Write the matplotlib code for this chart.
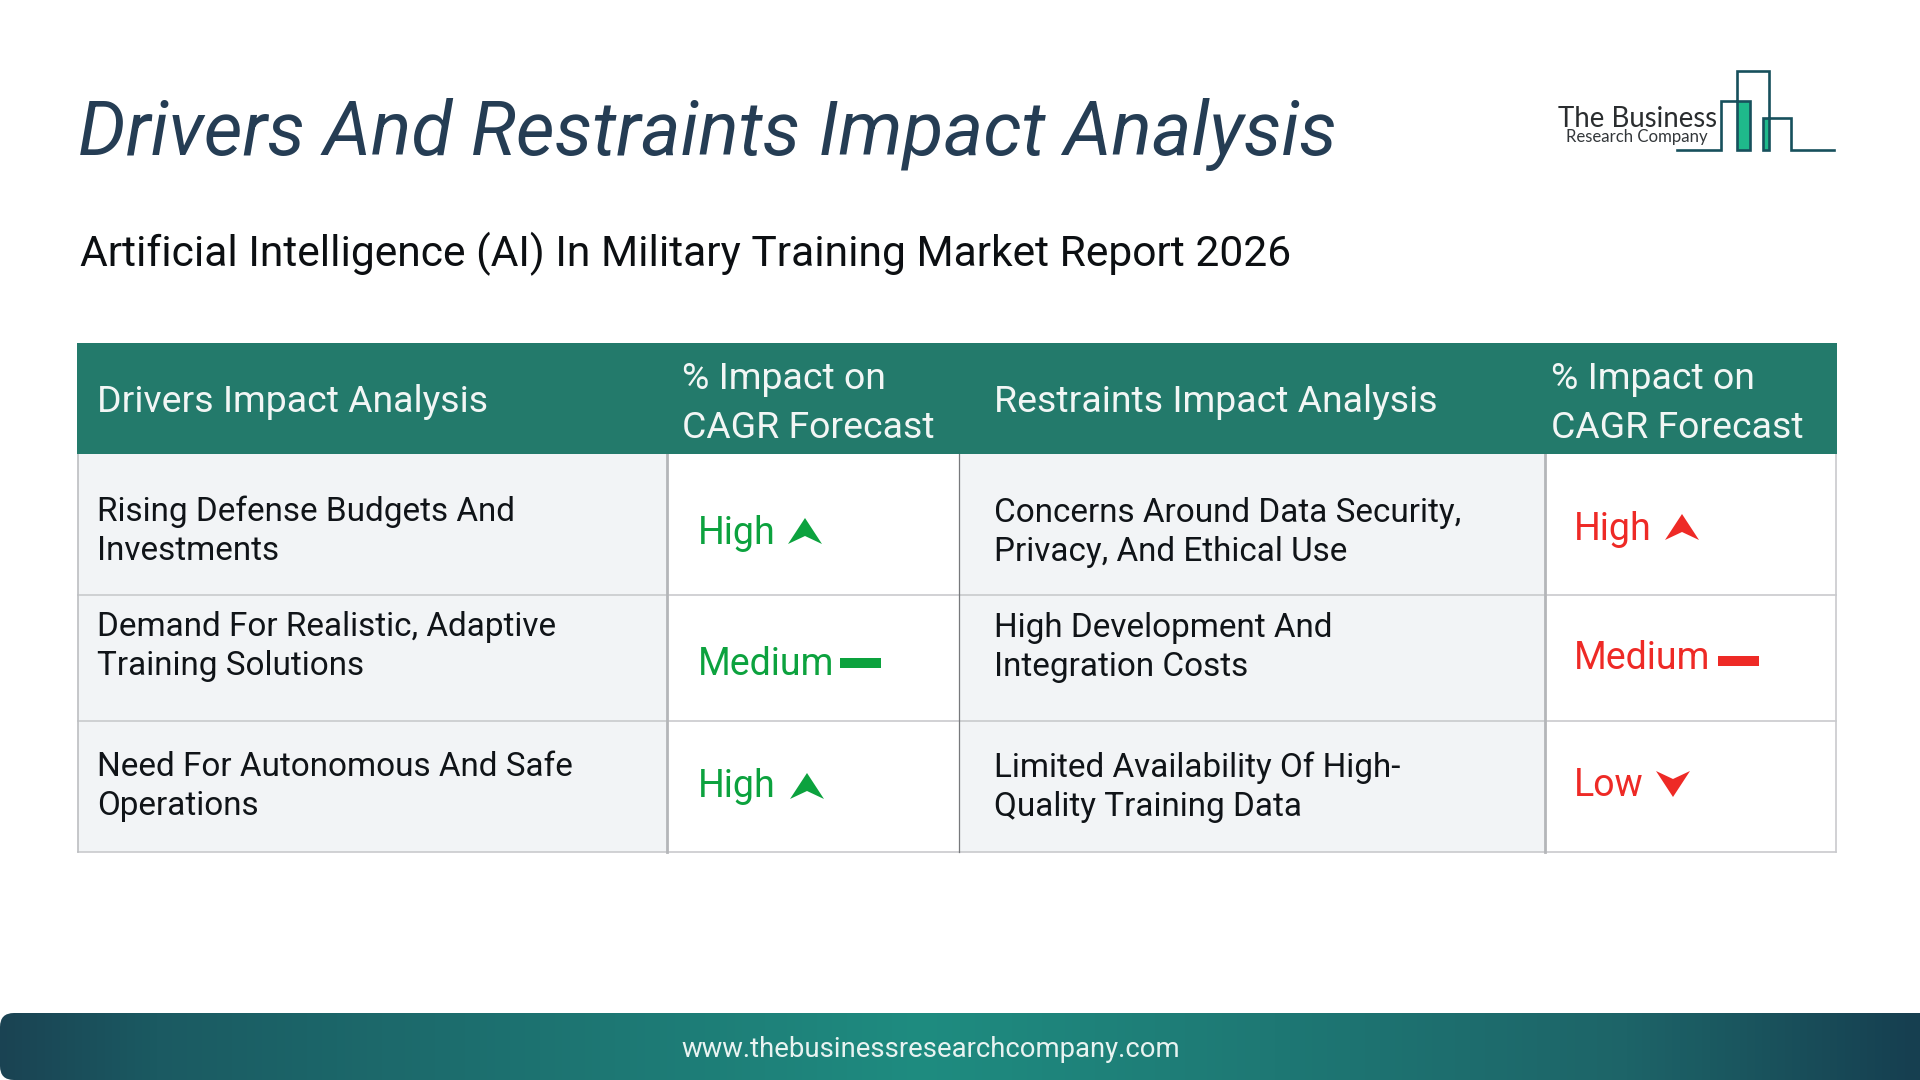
import numpy as np
import matplotlib
matplotlib.use("Agg")
import matplotlib.pyplot as plt
from matplotlib.patches import Rectangle, Polygon, FancyBboxPatch
from matplotlib.colors import LinearSegmentedColormap

plt.rcParams['font.family'] = ['Roboto', 'DejaVu Sans']

TITLE = "Drivers And Restraints Impact Analysis"
SUBTITLE = "Artificial Intelligence (AI) In Military Training Market Report 2026"
FOOTER = "www.thebusinessresearchcompany.com"
HEAD_DRIVERS = "Drivers Impact Analysis"
HEAD_RESTRAINTS = "Restraints Impact Analysis"
HEAD_IMPACT = ["% Impact on", "CAGR Forecast"]
DRIVERS = [["Rising Defense Budgets And", "Investments"],
           ["Demand For Realistic, Adaptive", "Training Solutions"],
           ["Need For Autonomous And Safe", "Operations"]]
DRIVER_LEVELS = ["High", "Medium", "High"]
RESTRAINTS = [["Concerns Around Data Security,", "Privacy, And Ethical Use"],
              ["High Development And", "Integration Costs"],
              ["Limited Availability Of High-", "Quality Training Data"]]
RESTRAINT_LEVELS = ["High", "Medium", "Low"]

GREEN, RED, HEADER, CELL, LINE, INK = "#0ca23e", "#ee2a26", "#237a6b", "#f2f4f6", "#c9cacd", "#101418"
COLS = [77.5, 667, 959, 1545, 1836]
HEAD_Y = (343, 453.5)
ROWS = [453.5, 594.5, 721, 852]

fig = plt.figure(figsize=(19.2, 10.8), dpi=100, facecolor="white")
ax = fig.add_axes([0, 0, 1, 1])
ax.set_xlim(0, 1920); ax.set_ylim(1080, 0); ax.axis("off")
PX = 0.72

def txt(x, y, s, px, color=INK, **kw):
    ax.text(x, y, s, fontsize=px * PX, color=color, va="baseline", ha=kw.pop("ha", "left"), **kw)

txt(78, 155, TITLE, 75.2, "#253d54", style="italic")
txt(80, 266, SUBTITLE, 42.65, "#0c0f12")

# table
for i in range(3):
    y0, y1 = ROWS[i], ROWS[i + 1]
    for c, fc in enumerate([CELL, "white", CELL, "white"]):
        ax.add_patch(Rectangle((COLS[c], y0), COLS[c + 1] - COLS[c], y1 - y0, fc=fc, ec="none", zorder=1))
for y in ROWS[1:]:
    ax.plot([COLS[0], COLS[-1]], [y, y], color=LINE, lw=1.2, zorder=2)
for x, w, col in [(COLS[0], 1.2, "#bcbec1"), (COLS[1], 2.0, "#b4b6b9"), (COLS[2], 0.9, "#77797c"),
                  (COLS[3], 2.0, "#b4b6b9"), (COLS[4], 1.2, LINE)]:
    ax.plot([x, x], [ROWS[0], ROWS[-1]], color=col, lw=w, zorder=2)
ax.add_patch(Rectangle((COLS[0] - 1, HEAD_Y[0]), COLS[-1] - COLS[0] + 2, HEAD_Y[1] - HEAD_Y[0], fc=HEADER, ec="none", zorder=3))

H = 37.35
HC = "#f2f6f5"
txt(97, 412.4, HEAD_DRIVERS, H, HC, zorder=4)
txt(994, 412.4, HEAD_RESTRAINTS, H, HC, zorder=4)
for x in (682, 1551):
    txt(x, 389.4, HEAD_IMPACT[0], H, HC, zorder=4)
    txt(x, 438.4, HEAD_IMPACT[1], H, HC, zorder=4)

B = 33.3
for (x, rows, bases) in [(97, DRIVERS, [(521, 560), (636, 675), (776, 815)]),
                         (994, RESTRAINTS, [(522, 561), (637, 676), (777, 816)])]:
    for lines, (b0, b1) in zip(rows, bases):
        txt(x, b0, lines[0], B, zorder=4)
        txt(x, b1, lines[1], B, zorder=4)

def up(x, base, color):
    ax.add_patch(Polygon([(x, base), (x + 17, base - 26), (x + 34, base), (x + 17, base - 8)], fc=color, ec="none", zorder=4))

def down(x, base, color):
    ax.add_patch(Polygon([(x, base - 26), (x + 17, base - 18), (x + 34, base - 26), (x + 17, base)], fc=color, ec="none", zorder=4))

def flat(x, y, color):
    ax.add_patch(Rectangle((x, y), 41, 10, fc=color, ec="none", zorder=4))

L = 37.5
for s, b, g in zip(DRIVER_LEVELS, [544, 675, 797], [(788, 544), (840, 658), (790, 799)]):
    txt(698, b, s, L, GREEN, zorder=4)
    if s == "High":
        up(g[0], g[1], GREEN)
    else:
        flat(g[0], g[1], GREEN)
for s, b, g in zip(RESTRAINT_LEVELS, [540, 669, 796], [(1665, 540), (1718, 656), (1656, 797)]):
    txt(1574, b, s, L, RED, zorder=4)
    if s == "High":
        up(g[0], g[1], RED)
    elif s == "Low":
        down(g[0], g[1], RED)
    else:
        flat(g[0], g[1], RED)

# logo
LOGO = "#17505c"
ax.add_patch(Rectangle((1738, 101), 13, 49, fc="#1fb98b", ec="none", zorder=2))
ax.add_patch(Rectangle((1763, 118), 6, 32, fc="#1fb98b", ec="none", zorder=2))
ax.plot([1677, 1721, 1721, 1750, 1750, 1737, 1737, 1769, 1769, 1763, 1763, 1791, 1791, 1834],
        [150, 150, 101, 101, 150, 150, 71, 71, 150, 150, 118, 118, 150, 150],
        color=LOGO, lw=1.9, zorder=3, solid_joinstyle="miter")
ax.text(1558, 127, "The Business", fontsize=27.6 * PX, color="#2a2d2f", family="Lato", va="baseline", zorder=4)
ax.text(1566, 142, "Research Company", fontsize=16.7 * PX, color="#33373a", family="Lato", va="baseline", zorder=4)

# footer band
stops = [(0.0, "#1a4353"), (0.08, "#1b5a62"), (0.48, "#1f8c80"), (0.85, "#1d6468"), (1.0, "#163f50")]
cmap = LinearSegmentedColormap.from_list("f", stops)
im = ax.imshow(np.linspace(0, 1, 512)[None, :], extent=(0, 1920, 1080, 1013), cmap=cmap, aspect="auto", zorder=1)
clip = FancyBboxPatch((0, 1013), 2000, 67, boxstyle="round,pad=0,rounding_size=14", transform=ax.transData, fc="none", ec="none")
ax.add_patch(clip)
im.set_clip_path(clip)
ax.set_xlim(0, 1920); ax.set_ylim(1080, 0)
txt(931, 1057, FOOTER, 27.5, "#e8f3f1", ha="center", zorder=4)

fig.savefig("out.png", dpi=100)
